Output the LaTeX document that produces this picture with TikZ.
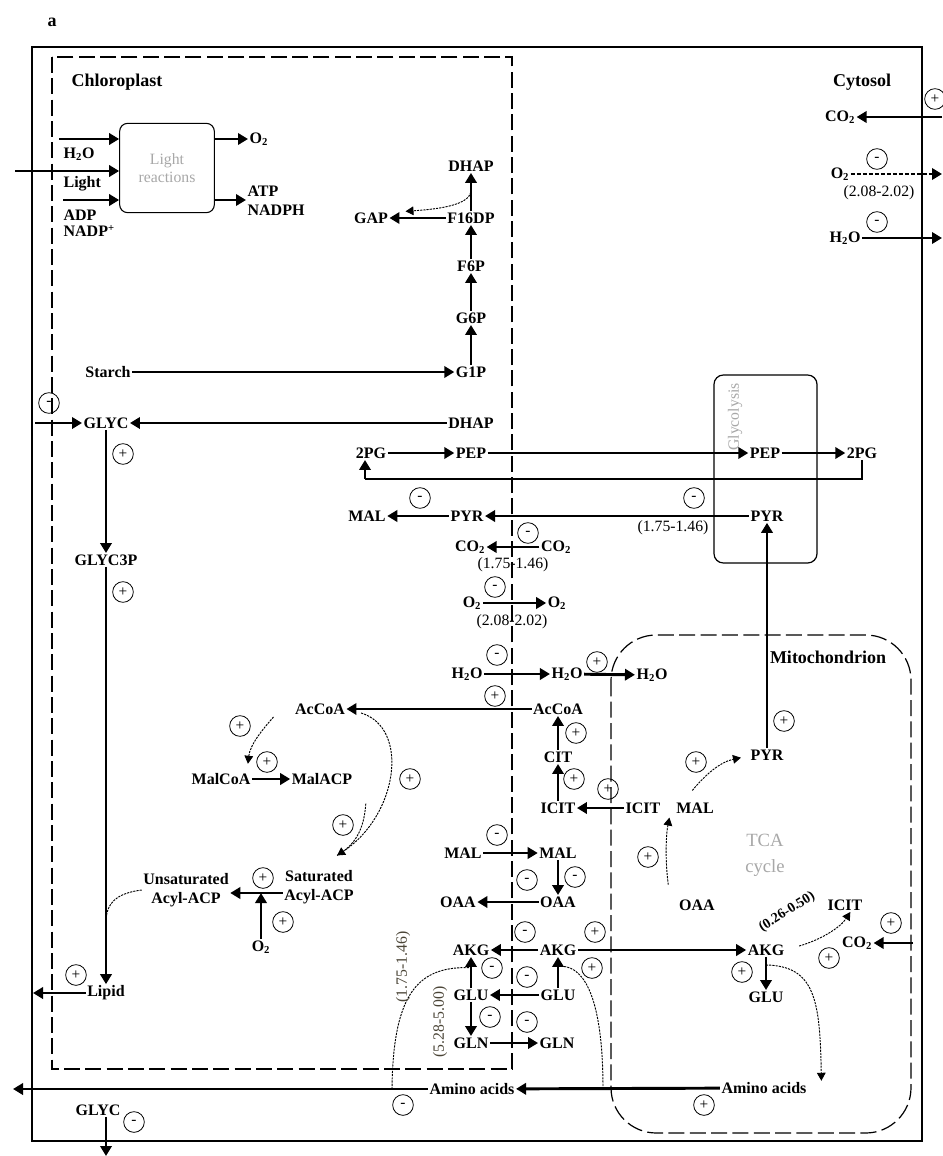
\documentclass[tikz,border=0pt]{standalone}
\usepackage{fontspec}
\setmainfont{Liberation Serif}
\usetikzlibrary{arrows.meta,calc}
\newcommand{\mysub}[1]{\textsubscript{#1}}
\definecolor{lbl}{HTML}{A8A8A8}
\definecolor{brn}{HTML}{4A4436}
\tikzset{
  m/.style={font=\bfseries\fontsize{12}{14}\selectfont, inner sep=1pt, align=center},
  hd/.style={font=\bfseries\fontsize{13.5}{15}\selectfont, inner sep=1pt},
  num/.style={font=\fontsize{11.8}{13}\selectfont, inner sep=0.5pt},
  gt/.style={text=lbl, font=\fontsize{11.8}{14}\selectfont, inner sep=1pt, align=center},
  sg/.style={circle, draw, line width=0.6pt, inner sep=0pt, minimum size=15.5pt, font=\fontsize{11.5}{11.5}\selectfont},
  arr/.style={line width=2.2pt, -{Triangle[length=7.5pt,width=8.5pt]}},
  tarr/.style={line width=0.7pt, dash pattern=on 1.6pt off 0.8pt, -{Triangle[length=6pt,width=6.5pt]}},
  tline/.style={line width=0.7pt, dash pattern=on 1.6pt off 0.8pt},
  dbox/.style={line width=0.9pt, dash pattern=on 12pt off 4pt},
}
\begin{document}
\begin{tikzpicture}[x=0.75pt,y=-0.75pt]
\useasboundingbox (0,0) rectangle (942,1156);
\fill[white] (0,0) rectangle (942,1156);

% frames
\draw[line width=1.1pt] (32,47) rectangle (922,1141);
\draw[dbox] (52,57) rectangle (512,1069);
\draw[dbox, rounded corners=34pt] (611,635) rectangle (911,1133);
\draw[line width=0.9pt, rounded corners=7pt] (714,375) rectangle (817,563);

% headers
\node[hd] (lbla) at (52,22) {a};
\node[hd] (chl) at (117,82) {Chloroplast};
\node[hd] (cyt) at (862,82) {Cytosol};
\node[hd] (mit) at (828,657) {Mitochondrion};

% light reactions
\node[draw, line width=0.8pt, rounded corners=6pt, minimum width=71pt, minimum height=67pt, gt] (LR) at (167,168) {Light\\reactions};
\node[m, anchor=west] (lh2o) at (62,154) {H\mysub{2}O};
\node[m, anchor=west] (llight) at (62,184) {Light};
\node[m, anchor=west] (ladp) at (62,215) {ADP};
\node[m, anchor=west] (lnadp) at (62,231) {NADP\textsuperscript{+}};
\coordinate (in1) at (59,139);
\coordinate (in2) at (15,171);
\coordinate (in3) at (63,200);
\draw[arr] (in1) -- (in1 -| LR.west);
\draw[arr] (in2) -- (in2 -| LR.west);
\draw[arr] (in3) -- (in3 -| LR.west);
\node[m, anchor=west] (lo2) at (248,139) {O\mysub{2}};
\node[m, anchor=west, align=left] (latp) at (246,201) {ATP\\NADPH};
\draw[arr] (LR.east |- lo2) -- (lo2.west);
\draw[arr] (LR.east |- in3) -- (latp.west |- in3);

% Calvin / starch
\node[m] (dhapA) at (471,166) {DHAP};
\node[m] (f16dp) at (471,218) {F16DP};
\node[m] (gap) at (371,218) {GAP};
\node[m] (f6p) at (471,266) {F6P};
\node[m] (g6p) at (471,318) {G6P};
\node[m] (g1p) at (471,372) {G1P};
\node[m] (starch) at (108,372) {Starch};
\node[m] (dhapB) at (471,423) {DHAP};
\node[m] (glyc) at (106,423) {GLYC};
\node[m] (glyc3p) at (106,560) {GLYC3P};
\node[m] (lipid) at (106,993) {Lipid};
\draw[arr] (f16dp) -- (gap);
\draw[arr] (f16dp) -- (dhapA);
\draw[arr] (f6p) -- (f16dp);
\draw[arr] (g6p) -- (f6p);
\draw[arr] (g1p) -- (g6p);
\draw[arr] (starch) -- (g1p);
\draw[arr] (dhapB) -- (glyc);
\draw[tarr] ($(f16dp.north)!0.5!(dhapA.south)$) .. controls (468,205) and (440,209) .. ([xshift=12pt,yshift=5pt]gap.east);
\coordinate (glycin) at (35,423);
\draw[arr] (glycin) -- (glyc);
\draw[arr] (glyc) -- (glyc3p);
\draw[arr] (glyc3p) -- (lipid);
\coordinate (lipout) at (33,993);
\draw[arr] (lipid) -- (lipout);
\node[sg] (s1) at (49,403) {-};
\node[sg] (s2) at (123,454) {+};
\node[sg] (s3) at (123,592) {+};
\node[sg] (s4) at (76,975) {+};

% fatty acids
\node[m] (accoaL) at (320,709) {AcCoA};
\node[m] (malcoa) at (221,779) {MalCoA};
\node[m] (malacp) at (322,779) {MalACP};
\node[m] (sat) at (319,887) {Saturated\\Acyl-ACP};
\node[m] (unsat) at (186,890) {Unsaturated\\Acyl-ACP};
\node[m] (o2c) at (261,947) {O\mysub{2}};
\draw[arr] ([yshift=-4.5pt]sat.west) -- ([yshift=-4.5pt]sat.west -| unsat.east);
\draw[arr] (o2c) -- ([yshift=-4.5pt]sat.west -| o2c);
\coordinate (lj) at (106,922);
\draw[tline] (unsat.west) .. controls (118,893) and (106,902) .. (lj);
\draw[tarr] ([xshift=-15pt,yshift=-6pt]accoaL.west) .. controls (262,730) and (250,745) .. ([xshift=-3pt,yshift=6pt]malcoa.north east);
\draw[arr] (malcoa) -- (malacp);
\draw[tarr] ([xshift=11pt,yshift=-3pt]accoaL.east) .. controls (410,728) and (398,815) .. ([xshift=13.5pt,yshift=10pt]sat.north);
\draw[tline] ([xshift=9pt,yshift=-13pt]malacp.south east) .. controls (364,830) and (355,845) .. ([xshift=13.5pt,yshift=10pt]sat.north);
\node[sg] (s5) at (240,726) {+};
\node[sg] (s6) at (267,762) {+};
\node[sg] (s7) at (410,779) {+};
\node[sg] (s8) at (343,825) {+};
\node[sg] (s9) at (263,878) {+};
\node[sg] (s10) at (283,922) {+};

% glycolysis exchange
\node[m] (pgA) at (371,453) {2PG};
\node[m] (pepA) at (471,453) {PEP};
\node[m] (pepB) at (765,453) {PEP};
\node[m] (pgB) at (862,453) {2PG};
\node[gt, rotate=90] (glyco) at (735,417) {Glycolysis};
\draw[arr] (pgA) -- (pepA);
\draw[arr] (pepA) -- (pepB);
\draw[arr] (pepB) -- (pgB);
\coordinate (ret) at (365,479);
\draw[line width=0.9pt] (pgB.south) |- (ret);
\draw[arr] (ret) -- (ret |- pgA.south);

\node[m] (malC) at (367,516) {MAL};
\node[m] (pyrC) at (467,516) {PYR};
\node[m] (pyrG) at (767,516) {PYR};
\draw[arr] (pyrC) -- (malC);
\draw[arr] (pyrG) -- (pyrC);
\node[sg] (s11) at (420,498) {-};
\node[sg] (s12) at (694,498) {-};
\node[num] (n1) at (673,528) {(1.75-1.46)};

\node[m] (co2A) at (470,547) {CO\mysub{2}};
\node[m] (co2B) at (556,547) {CO\mysub{2}};
\draw[arr] (co2B) -- (co2A);
\node[sg] (s13) at (528,533) {-};
\node[num] (n2) at (513,565) {(1.75-1.46)};

\node[m] (o2A) at (472,603) {O\mysub{2}};
\node[m] (o2B) at (557,603) {O\mysub{2}};
\draw[arr] (o2A) -- (o2B);
\node[sg] (s14) at (495,587) {-};
\node[num] (n3) at (512,622) {(2.08-2.02)};

\node[m] (h2oA) at (467,674) {H\mysub{2}O};
\node[m] (h2oB) at (567,674) {H\mysub{2}O};
\node[m] (h2oC) at (652,675) {H\mysub{2}O};
\draw[arr] (h2oA) -- (h2oB);
\draw[arr] (h2oB) -- (h2oC);
\node[sg] (s15) at (497,655) {-};
\node[sg] (s16) at (597,662) {+};

\node[m] (accoaR) at (558,709) {AcCoA};
\draw[arr] (accoaR) -- (accoaL);
\node[sg] (s17) at (495,696) {+};

\node[m] (cit) at (558,757) {CIT};
\node[m] (icitC) at (558,808) {ICIT};
\node[m] (icitM) at (643,808) {ICIT};
\node[m] (malM) at (695,808) {MAL};
\draw[arr] (cit) -- (accoaR);
\draw[arr] (icitC) -- (cit);
\draw[arr] (icitM) -- (icitC);
\node[sg] (s18) at (576,733) {+};
\node[sg] (s19) at (574,779) {+};
\node[sg] (s20) at (608,789) {+};

\node[m] (malL) at (463,853) {MAL};
\node[m] (malR) at (558,853) {MAL};
\draw[arr] (malL) -- (malR);
\node[sg] (s21) at (497,835) {-};
\node[m] (oaaL) at (458,902) {OAA};
\node[m] (oaaR) at (558,902) {OAA};
\draw[arr] (malR) -- (oaaR);
\draw[arr] (oaaR) -- (oaaL);
\node[sg] (s22) at (527,880) {-};
\node[sg] (s23) at (575,877) {-};

\node[m] (akgL) at (471,950) {AKG};
\node[m] (akgR) at (558,950) {AKG};
\node[m] (akgM) at (766,950) {AKG};
\draw[arr] (akgR) -- (akgL);
\draw[arr] (akgR) -- (akgM);
\node[sg] (s24) at (525,932) {-};
\node[sg] (s25) at (595,932) {+};
\node[sg] (s26) at (592,968) {+};

\node[m] (gluL) at (471,995) {GLU};
\node[m] (gluR) at (558,995) {GLU};
\node[m] (gluM) at (766,997) {GLU};
\draw[arr] (gluR) -- (gluL);
\draw[arr] (gluL) -- (akgL);
\draw[arr] (gluR) -- (akgR);
\draw[arr] (akgM) -- (gluM);
\node[sg] (s27) at (527,977) {-};
\node[sg] (s28) at (492,968) {-};
\node[sg] (s29) at (742,972) {+};

\node[m] (glnL) at (471,1043) {GLN};
\node[m] (glnR) at (557,1043) {GLN};
\draw[arr] (gluL) -- (glnL);
\draw[arr] (glnL) -- (glnR);
\node[sg] (s30) at (527,1022) {-};
\node[sg] (s31) at (490,1017) {-};

\node[m] (aaC) at (472,1089) {Amino acids};
\node[m] (aaM) at (764,1088) {Amino acids};
\draw[arr] (aaM) -- (aaC);
\coordinate (aaout) at (13,1089);
\draw[arr] (aaC) -- (aaout);
\node[sg] (s32) at (403,1105) {-};
\node[sg] (s33) at (704,1105) {+};

\coordinate (j3) at (392,1089);
\draw[tline] (j3) .. controls (393,990) and (420,966) .. ([yshift=-8pt]akgL.south);
\coordinate (j5) at (603,1089);
\draw[tline] (j5) .. controls (603,1000) and (585,967) .. ([xshift=3pt,yshift=-7pt]akgR.south);
\node[num, rotate=90, text=brn] (n4) at (403,967) {(1.75-1.46)};
\node[num, rotate=90, text=brn] (n5) at (440,1022) {(5.28-5.00)};

% mitochondrion
\node[m] (pyrM) at (767,755) {PYR};
\draw[arr] (pyrM) -- (pyrG);
\node[sg] (s34) at (784,721) {+};
\node[m] (oaaM) at (697,905) {OAA};
\draw[tarr] ([xshift=-7pt,yshift=10pt]oaaM.north west) .. controls (665,860) and (666,835) .. ([xshift=-4pt,yshift=-2pt]malM.south west);
\draw[tarr] ([xshift=-2pt,yshift=8pt]malM.north) .. controls (705,775) and (720,762) .. ([xshift=-6pt,yshift=-2pt]pyrM.west);
\node[sg] (s35) at (696,762) {+};
\node[sg] (s36) at (648,857) {+};
\node[gt, font=\fontsize{14}{19.5}\selectfont] (tca) at (765,855) {TCA\\cycle};

\draw[tarr] ([yshift=-6pt]akgM.south) .. controls (815,966) and (820,1000) .. ([xshift=10pt]aaM.north east);
\node[m] (icitR) at (845,905) {ICIT};
\draw[tarr] ([xshift=10pt,yshift=3pt]akgM.east) .. controls (820,940) and (840,928) .. ([xshift=4pt]icitR.south);
\node[num, font=\bfseries\fontsize{10.5}{11}\selectfont, rotate=32] (n6) at (787,912) {(0.26-0.50)};
\node[m] (co2M) at (857,943) {CO\mysub{2}};
\coordinate (co2Min) at (913,943);
\draw[arr] (co2Min) -- (co2M);
\node[sg] (s37) at (829,958) {+};
\node[sg] (s38) at (891,923) {+};

% cytosol exchange
\node[m] (co2Cy) at (840,117) {CO\mysub{2}};
\coordinate (co2CyIn) at (942,117);
\draw[arr] (co2CyIn) -- (co2Cy);
\node[sg] (s39) at (935,99) {+};
\node[m] (o2Cy) at (840,174) {O\mysub{2}};
\coordinate (o2CyOut) at (942,174);
\draw[arr, dash pattern=on 3pt off 1.5pt] (o2Cy) -- (o2CyOut);
\node[sg] (s40) at (877,159) {-};
\node[num] (n7) at (879,193) {(2.08-2.02)};
\node[m] (h2oCy) at (845,238) {H\mysub{2}O};
\coordinate (h2oCyOut) at (942,238);
\draw[arr] (h2oCy) -- (h2oCyOut);
\node[sg] (s41) at (877,222) {-};

% bottom
\node[m] (glycB) at (98,1110) {GLYC};
\coordinate (glycBout) at (106,1156);
\draw[arr] (glycB.south -| glycBout) -- (glycBout);
\node[sg] (s42) at (134,1122) {-};
\end{tikzpicture}
\end{document}
